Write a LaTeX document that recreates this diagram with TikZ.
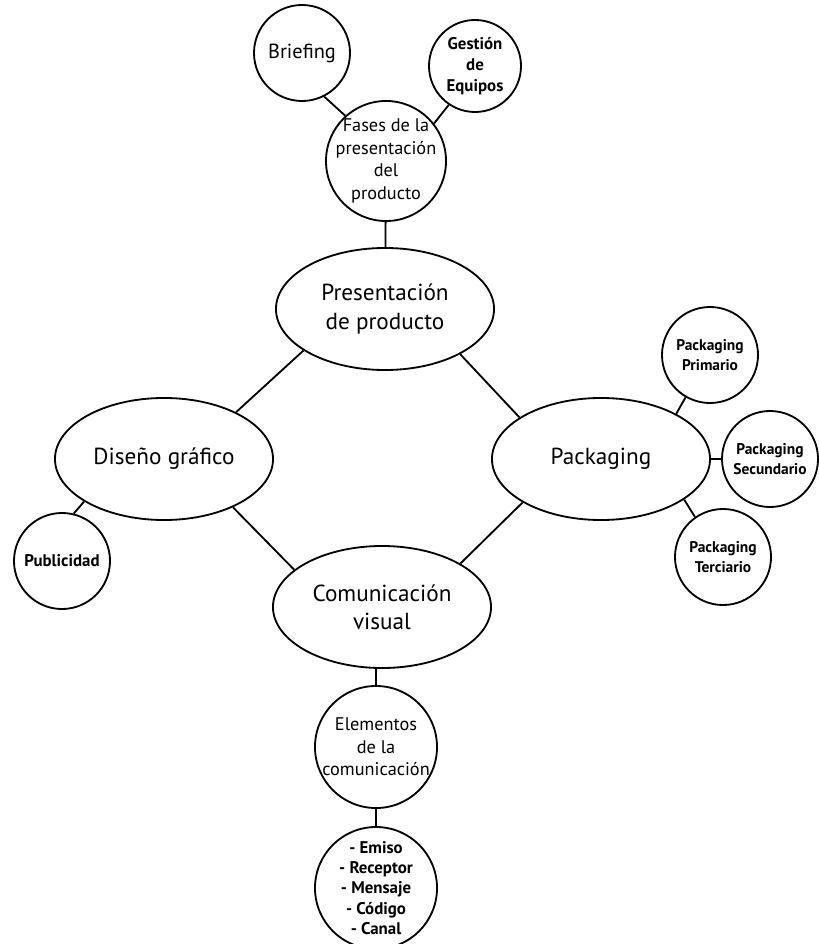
\documentclass[tikz,border=0pt]{standalone}
\usepackage{fontspec}
\setmainfont{PT Sans}
\usetikzlibrary{shapes.geometric}

\begin{document}
\begin{tikzpicture}[x=0.025cm,y=-0.025cm,line width=1.3pt,
	elipse/.style={draw,ellipse,minimum width=5.45cm,minimum height=3.05cm,
		inner sep=-1cm,align=center,font=\fontsize{16.5}{20}\selectfont},
	burbuja/.style={draw,circle,minimum size=2.4cm,inner sep=-1cm,align=center,
		font=\bfseries\fontsize{11}{14}\selectfont},
	bulle/.style={draw,circle,minimum size=3.05cm,inner sep=-1cm,align=center,
		font=\fontsize{13}{16}\selectfont}]
	\useasboundingbox (0,0) rectangle (818,944);
	% ellipses
	\node[elipse] (pres) at (385,309){Presentación\\de producto};
	\node[elipse] (dis) at (164,459){Diseño gráfico};
	\node[elipse] (pack) at (601,459){Packaging};
	\node[elipse] (com) at (382,607){Comunicación\\visual};
	% cercles
	\node[bulle,minimum size=3cm] (fases) at (386,161){Fases de la\\presentación\\del\\producto};
	\node[burbuja,font=\fontsize{14.5}{17}\selectfont] (brief) at (302,53){Briefing};
	\node[burbuja,minimum size=2.3cm,font=\bfseries\fontsize{12}{15}\selectfont] (gest) at (475,66){Gestión\\de\\Equipos};
	\node[burbuja] (prim) at (710,355){Packaging\\Primario};
	\node[burbuja] (sec) at (770,459){Packaging\\Secundario};
	\node[burbuja] (terc) at (723,557){Packaging\\Terciario};
	\node[burbuja,font=\bfseries\fontsize{12}{14}\selectfont] (pub) at (62,561){Publicidad};
	\node[bulle] (elem) at (376,747){Elementos\\de la\\comunicación};
	\node[burbuja,minimum size=3.05cm,font=\bfseries\fontsize{12}{14.5}\selectfont] (lista) at (376,888){- Emiso\\- Receptor\\- Mensaje\\- Código\\- Canal};
	% liens
	\draw (brief.297)--(fases.132);
	\draw (gest.236)--(fases.38);
	\draw (fases)--(pres);
	\draw (pres.207)--(dis.33);
	\draw (pres.329)--(pack.153);
	\draw (dis.325)--(com.157);
	\draw (pack.209)--(com.29);
	\draw (dis.208)--(pub.76);
	\draw (pack.31)--(prim.240);
	\draw (pack)--(sec);
	\draw (pack.334)--(terc.125);
	\draw (elem.north)--(elem.north |- com.south);
	\draw (elem)--(lista);
\end{tikzpicture}
\end{document}
